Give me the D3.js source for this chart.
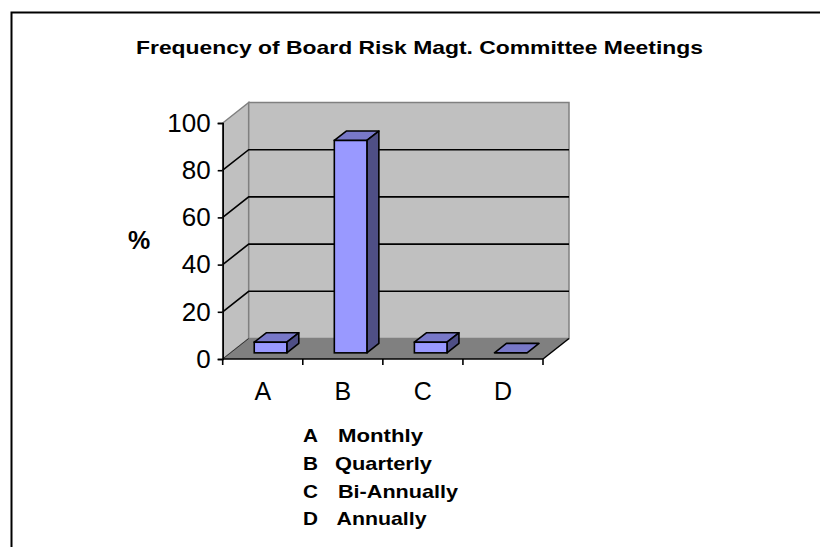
<!DOCTYPE html>
<html>
<head>
<meta charset="utf-8">
<script src="https://cdn.jsdelivr.net/npm/d3@7"></script>
<style>
  html, body { margin: 0; padding: 0; background: #fff; }
  svg { display: block; font-family: "Liberation Sans", Arial, sans-serif; }
</style>
</head>
<body>
<svg id="chart" width="820" height="547"></svg>
<script>
// Chart data
const categories = ['A', 'B', 'C', 'D'];
const values = [4.5, 90, 4.5, 0];
const yTicks = [0, 20, 40, 60, 80, 100];
const legendLetters = ['A', 'B', 'C', 'D'];
const legendNames = ['Monthly', 'Quarterly', 'Bi-Annually', 'Annually'];
const title = 'Frequency of Board Risk Magt. Committee Meetings';

const svg = d3.select('#chart');

// 3D geometry: front plane + depth offset
const DX = 26, DY = -20.5;
const x0 = 222.7, x1 = 543;
const off = t => [DX * t, DY * t];

const y = d3.scaleLinear().domain([0, 100]).range([359, 123]);
const xCat = d3.scaleBand().domain(categories).range([x0, x1]);
const xBar = d3.scaleBand().domain(categories).range([x0, x1])
  .paddingInner(0.593).paddingOuter(0.2965);

// Bars sit between these depth fractions
const dFront = 0.3, dBack = 0.76;

const poly = pts => 'M' + pts.map(p => p.join(',')).join('L') + 'Z';

// Frame
svg.append('path')
  .attr('d', 'M11.5,547V12.5H820')
  .attr('fill', 'none')
  .attr('stroke', '#000')
  .attr('stroke-width', 2);

// Title
svg.append('text')
  .attr('x', 419.5).attr('y', 54)
  .attr('text-anchor', 'middle')
  .attr('font-size', '19px')
  .attr('font-weight', 'bold')
  .attr('textLength', 567)
  .attr('lengthAdjust', 'spacingAndGlyphs')
  .text(title);

const yTop = y(100), y0 = y(0);

// Side wall
svg.append('path')
  .attr('d', poly([[x0, y0], [x0, yTop], [x0 + DX, yTop + DY], [x0 + DX, y0 + DY]]))
  .attr('fill', '#c0c0c0')
  .attr('stroke', '#808080')
  .attr('stroke-width', 1.5);

// Back wall
svg.append('path')
  .attr('d', poly([[x0 + DX, y0 + DY], [x0 + DX, yTop + DY], [x1 + DX, yTop + DY], [x1 + DX, y0 + DY]]))
  .attr('fill', '#c0c0c0')
  .attr('stroke', '#808080')
  .attr('stroke-width', 1.5);

// Floor
svg.append('path')
  .attr('d', poly([[x0, y0], [x1, y0], [x1 + DX, y0 + DY], [x0 + DX, y0 + DY]]))
  .attr('fill', '#808080')
  .attr('stroke', 'none');
svg.append('path')
  .attr('d', `M${x1},${y0}L${x1 + DX},${y0 + DY}`)
  .attr('stroke', '#000').attr('stroke-width', 1.5);
svg.append('path')
  .attr('d', `M${x0},${y0}L${x0 + DX},${y0 + DY}`)
  .attr('stroke', '#333').attr('stroke-width', 1);

// Gridlines on side wall and back wall
const grid = yTicks.filter(v => v > 0 && v < 100);
svg.append('g').selectAll('path')
  .data(grid)
  .join('path')
  .attr('d', v => `M${x0},${y(v)}L${x0 + DX},${y(v) + DY}H${x1 + DX}`)
  .attr('fill', 'none')
  .attr('stroke', '#000')
  .attr('stroke-width', 1.6);

// Bars
const bars = svg.append('g').selectAll('g')
  .data(categories.map((c, i) => ({ c, v: values[i] })))
  .join('g');

bars.each(function (d) {
  const g = d3.select(this);
  const [fx, fy] = off(dFront);
  const [bx, by] = off(dBack);
  const l = xBar(d.c) + fx, r = l + xBar.bandwidth();
  const b = y0 + fy, t = y(d.v) + fy;
  const ddx = bx - fx, ddy = by - fy;
  // top face
  g.append('path')
    .attr('d', poly([[l, t], [r, t], [r + ddx, t + ddy], [l + ddx, t + ddy]]))
    .attr('fill', '#7878c8').attr('stroke', '#000').attr('stroke-width', 1.6)
    .attr('stroke-linejoin', 'round');
  if (d.v > 0) {
    // side face
    g.append('path')
      .attr('d', poly([[r, b], [r, t], [r + ddx, t + ddy], [r + ddx, b + ddy]]))
      .attr('fill', '#4f4f85').attr('stroke', '#000').attr('stroke-width', 1.6)
      .attr('stroke-linejoin', 'round');
    // front face
    g.append('rect')
      .attr('x', l).attr('y', t)
      .attr('width', r - l).attr('height', b - t)
      .attr('fill', '#9999ff').attr('stroke', '#000').attr('stroke-width', 1.6);
  }
});

// Value axis
const yAxis = svg.append('g')
  .attr('transform', `translate(${x0},0)`)
  .call(d3.axisLeft(y).tickValues(yTicks).tickSize(5).tickPadding(7));
yAxis.select('.domain').attr('stroke', '#000').attr('stroke-width', 1.6);
yAxis.selectAll('.tick line').attr('stroke', '#000').attr('stroke-width', 1.6);
yAxis.selectAll('.tick text')
  .attr('font-size', '26px')
  .attr('font-family', '"Liberation Sans", Arial, sans-serif')
  .attr('fill', '#000');

// Category axis
svg.append('path')
  .attr('d', `M${x0},${y0}H${x1}`)
  .attr('stroke', '#000').attr('stroke-width', 1.6);
svg.append('g').selectAll('path')
  .data(categories.concat(['end']))
  .join('path')
  .attr('d', (c, i) => {
    const xx = i < categories.length ? xCat(c) : x1;
    return `M${xx},${y0}V${y0 + 6}`;
  })
  .attr('stroke', '#000').attr('stroke-width', 1.6);
svg.append('g').selectAll('text')
  .data(categories)
  .join('text')
  .attr('x', c => xCat(c) + xCat.bandwidth() / 2)
  .attr('y', 400)
  .attr('text-anchor', 'middle')
  .attr('font-size', '25px')
  .text(c => c);

// "%" label
svg.append('text')
  .attr('x', 139).attr('y', 249)
  .attr('text-anchor', 'middle')
  .attr('font-size', '25px')
  .attr('font-weight', 'bold')
  .text('%');

// Legend
const legNameX = [338, 335, 338, 336.5];
const legNameW = [85, 97, 120, 90];
const leg = svg.append('g').selectAll('g')
  .data(legendLetters)
  .join('g')
  .attr('transform', (_, i) => `translate(0,${442 + i * 27.8})`)
  .attr('font-size', '19px')
  .attr('font-weight', 'bold');
leg.append('text').attr('x', 303)
  .attr('textLength', 15).attr('lengthAdjust', 'spacingAndGlyphs')
  .text(d => d);
leg.append('text').attr('x', (_, i) => legNameX[i])
  .attr('textLength', (_, i) => legNameW[i])
  .attr('lengthAdjust', 'spacingAndGlyphs')
  .text((_, i) => legendNames[i]);
</script>
</body>
</html>
